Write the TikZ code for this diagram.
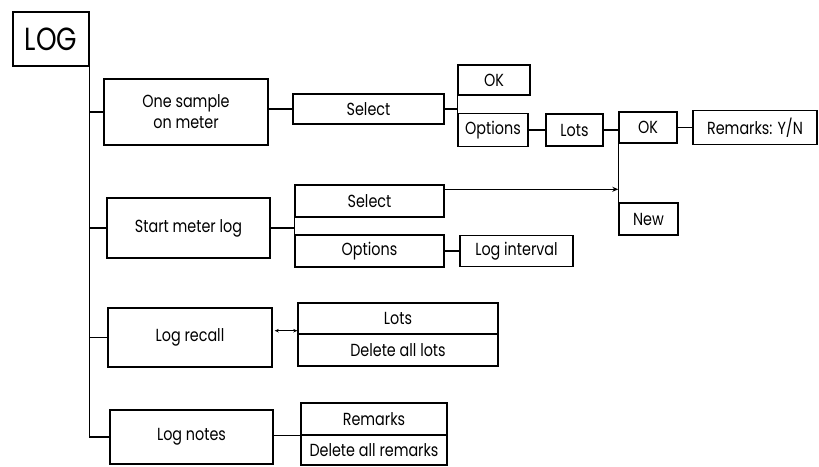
\documentclass[tikz,border=0pt]{standalone}
\usepackage{fontspec}
\setmainfont[FakeStretch=0.82]{Poppins}
\usetikzlibrary{arrows.meta}
\begin{document}
\begin{tikzpicture}[x=1pt,y=-1pt,
  box/.style={draw, line width=1.4pt, inner sep=0pt, font=\fontsize{17.5}{19}\selectfont, align=center},
  conn/.style={line width=1.4pt},
  tip/.style={line width=1.0pt},
  ]
\useasboundingbox (0,0) rectangle (819,466);
% boxes
\node[box, minimum width=76pt, minimum height=54pt, font=\fontsize{32}{33}\selectfont] (log) at (51,39) {LOG};
\node[box, minimum width=164pt, minimum height=66pt] (onesample) at (186,112) {One sample\\[2pt]on meter};
\node[box, minimum width=151pt, minimum height=30pt] (select1) at (368.5,109) {Select};
\node[box, minimum width=72pt, minimum height=30pt] (ok1) at (494,80) {OK};
\node[box, minimum width=70pt, minimum height=33pt] (options1) at (493,130) {Options};
\node[box, minimum width=57pt, minimum height=32pt] (lots1) at (574.5,130) {Lots};
\node[box, minimum width=58pt, minimum height=31pt] (ok2) at (648,127.5) {OK};
\node[box, minimum width=124pt, minimum height=34pt] (remyn) at (755,127.5) {Remarks: Y/N};
\node[box, minimum width=59pt, minimum height=32pt] (new) at (648.5,219) {New};
\node[box, minimum width=163pt, minimum height=60pt] (startlog) at (188.5,228) {Start meter log};
\node[box, minimum width=149pt, minimum height=32pt] (select2) at (369.5,201) {Select};
\node[box, minimum width=149pt, minimum height=32pt] (options2) at (369.5,251) {Options};
\node[box, minimum width=113pt, minimum height=31pt] (loginterval) at (516.5,251) {Log interval};
\node[box, minimum width=164pt, minimum height=59pt] (logrecall) at (190,337.5) {Log recall};
\node[box, minimum width=200pt, minimum height=31pt] (lots2) at (398,318.5) {Lots};
\node[box, minimum width=200pt, minimum height=32pt] (dellots) at (398,350) {Delete all lots};
\node[box, minimum width=163pt, minimum height=54pt] (lognotes) at (191.5,437) {Log notes};
\node[box, minimum width=146pt, minimum height=32pt] (remarks) at (374,419) {Remarks};
\node[box, minimum width=146pt, minimum height=30pt] (delrem) at (374,450) {Delete all remarks};
% trunk
\draw[conn] (log.south east) -- (log.south east |- lognotes.west) -- (lognotes.west);
\draw[conn] (log.south east |- onesample.west) -- (onesample.west);
\draw[conn] (log.south east |- startlog.west) -- (startlog.west);
\draw[conn] (log.south east |- logrecall.west) -- (logrecall.west);
% one sample branch
\draw[conn] (select1.west -| onesample.east) -- (select1.west);
\draw[conn] (select1.east) -- (select1.east -| ok1.west);
\draw[conn] (ok1.south west) -- (options1.north west);
\draw[conn] (options1.east) -- (lots1.west);
\draw[conn] (lots1.east) -- (lots1.east -| ok2.west);
\draw[conn] (ok2.east) -- (remyn.west);
\draw[conn] (ok2.south west) -- (new.north west);
% start meter log branch
\draw[conn] (startlog.east) -- (startlog.east -| select2.west);
\draw[conn] (select2.south west) -- (options2.north west);
\draw[conn, -{Stealth[length=6pt,width=5pt]}] ([yshift=-5pt]select2.north east) coordinate (s2a) -- (s2a -| new.north west);
\draw[conn] (options2.east) -- (loginterval.west);
% log recall
\draw[tip, {Stealth[length=4pt,width=3.5pt]}-{Stealth[length=4pt,width=3.5pt]}] ([yshift=4pt]lots2.south west -| logrecall.east) coordinate (lr) ++(2pt,0) -- ([yshift=4pt]lots2.south west);
% log notes
\draw[conn] (lognotes.east |- remarks.south west) -- (remarks.south west);
\end{tikzpicture}
\end{document}
